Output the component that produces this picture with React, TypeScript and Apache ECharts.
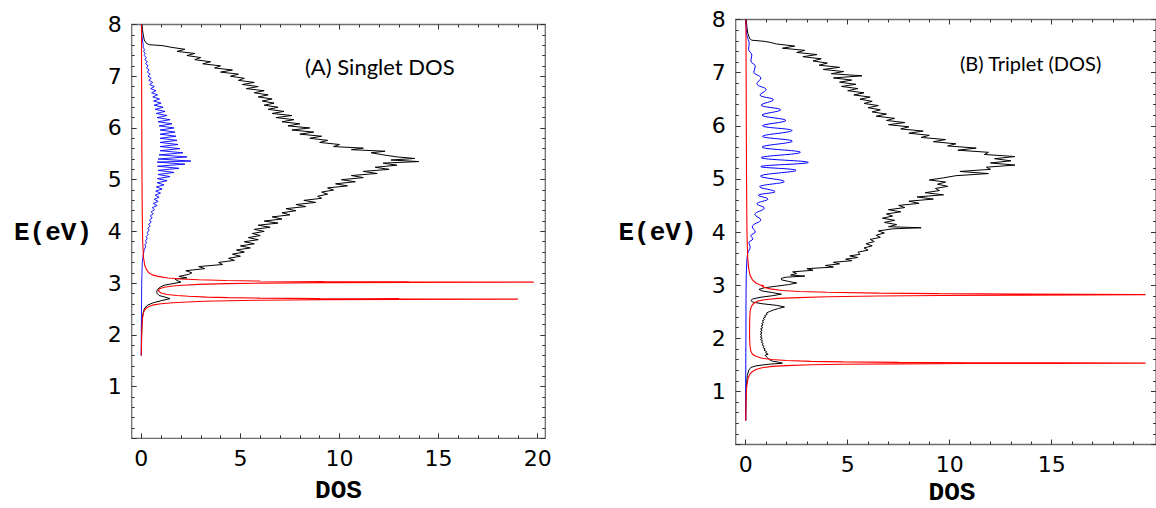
import React, { useEffect, useRef } from "react";
import * as echarts from "echarts";

// ---- tick labels ----
const energyTickLabels = [1, 2, 3, 4, 5, 6, 7, 8];
const dosTickLabelsA = [0, 5, 10, 15, 20];
const dosTickLabelsB = [0, 5, 10, 15];
const dosMinorTicks = [0, 1, 2, 3, 4, 6, 7, 8, 9, 11, 12, 13, 14, 16, 17, 18, 19];

// ---- Panel A (singlet): [E, DOS] ----
const singletTotal: [number, number][] = [
  [1.6, 0], [1.9, 0.01], [2.2, 0.03], [2.4, 0.08], [2.5, 0.15], [2.57, 0.3], [2.62, 0.6], [2.66, 1.0],
  [2.7, 1.45], [2.73, 1.2], [2.76, 0.9], [2.8, 0.8], [2.84, 0.78], [2.88, 0.82], [2.92, 0.95], [2.96, 1.15],
  [2.99, 1.6], [3.02, 2.0], [3.05, 1.8], [3.08, 1.7], [3.1, 2.3], [3.13, 1.9], [3.17, 2.4],
  [3.20, 2.55], [3.24, 2.25], [3.28, 3.2], [3.32, 2.9], [3.36, 4.1], [3.40, 3.9], [3.44, 4.7], [3.48, 4.4],
  [3.52, 5.0], [3.56, 4.6], [3.60, 5.2], [3.64, 4.8], [3.68, 5.5], [3.72, 5.0], [3.76, 5.7], [3.80, 5.2],
  [3.84, 5.9], [3.88, 5.4], [3.92, 6.0], [3.96, 5.6], [4.00, 6.2], [4.04, 5.7], [4.08, 6.5], [4.12, 5.9],
  [4.16, 6.9], [4.20, 6.2], [4.24, 7.1], [4.28, 6.6], [4.32, 7.5], [4.36, 7.1], [4.40, 7.8], [4.44, 7.3],
  [4.48, 8.3], [4.52, 7.8], [4.56, 8.8], [4.60, 8.2], [4.64, 9.1], [4.68, 8.9], [4.72, 9.4], [4.76, 9.1],
  [4.80, 9.7], [4.84, 9.4], [4.88, 10.4], [4.92, 9.8], [4.96, 10.8], [5.00, 10.1], [5.04, 11.2], [5.08, 10.6],
  [5.12, 11.9], [5.16, 11.2], [5.20, 12.5], [5.24, 11.8], [5.28, 12.9], [5.32, 12.2], [5.35, 14.0], [5.38, 12.6],
  [5.41, 13.8], [5.44, 12.9], [5.48, 12.2], [5.52, 11.6], [5.55, 12.3], [5.58, 10.6], [5.61, 11.2], [5.64, 9.7],
  [5.68, 10.0], [5.72, 9.0], [5.76, 9.4], [5.80, 8.5], [5.84, 9.1], [5.88, 8.0], [5.92, 8.7], [5.96, 7.6],
  [6.00, 8.5], [6.04, 7.4], [6.08, 8.0], [6.12, 7.1], [6.16, 7.7], [6.20, 6.8], [6.24, 7.6], [6.28, 6.6],
  [6.32, 7.2], [6.36, 6.4], [6.40, 6.9], [6.44, 6.2], [6.48, 6.7], [6.52, 6.1], [6.56, 6.6], [6.60, 5.9],
  [6.64, 6.4], [6.68, 5.7], [6.72, 6.2], [6.76, 5.3], [6.80, 5.9], [6.84, 5.1], [6.88, 5.7], [6.92, 4.9],
  [6.96, 5.2], [7.00, 4.5], [7.04, 4.9], [7.08, 4.0], [7.12, 4.6], [7.16, 3.7], [7.20, 4.0], [7.24, 3.1],
  [7.28, 3.5], [7.32, 2.7], [7.36, 3.0], [7.40, 2.3], [7.44, 2.7], [7.48, 1.8], [7.52, 2.2], [7.56, 1.5],
  [7.59, 1.1], [7.61, 0.4], [7.64, 0.25], [7.7, 0.15], [7.8, 0.1], [7.9, 0.06], [8.0, 0.04],
];

const singletBlue: [number, number][] = [
  [1.6, 0], [2.0, 0.0], [2.5, 0.01], [3.0, 0.02], [3.4, 0.05], [3.55, 0.1], [3.65, 0.15],
  [3.70, 0.22], [3.74, 0.18], [3.78, 0.26], [3.82, 0.22], [3.86, 0.3], [3.90, 0.25], [3.94, 0.35], [3.98, 0.29],
  [4.02, 0.4], [4.06, 0.33], [4.10, 0.45], [4.14, 0.37], [4.18, 0.5], [4.22, 0.41], [4.26, 0.55], [4.30, 0.45],
  [4.34, 0.6], [4.38, 0.5], [4.42, 0.67], [4.46, 0.55], [4.50, 0.8], [4.54, 0.6], [4.58, 0.85], [4.62, 0.65],
  [4.66, 0.9], [4.70, 0.7], [4.74, 0.97], [4.78, 0.73], [4.82, 1.05], [4.86, 0.76], [4.90, 1.15], [4.94, 0.8],
  [4.98, 1.3], [5.02, 0.82], [5.06, 1.45], [5.10, 0.85], [5.14, 1.65], [5.18, 0.85], [5.22, 1.9], [5.26, 0.82],
  [5.30, 2.2], [5.34, 0.8], [5.36, 2.5], [5.40, 0.85], [5.44, 2.3], [5.48, 0.9], [5.52, 2.1], [5.56, 0.95],
  [5.60, 1.95], [5.64, 0.95], [5.68, 1.85], [5.72, 0.95], [5.76, 1.8], [5.80, 0.95], [5.84, 1.75], [5.88, 0.95],
  [5.92, 1.7], [5.96, 0.95], [6.00, 1.65], [6.04, 0.9], [6.08, 1.55], [6.12, 0.85], [6.16, 1.45], [6.20, 0.8],
  [6.24, 1.3], [6.28, 0.75], [6.32, 1.2], [6.36, 0.7], [6.40, 1.1], [6.44, 0.65], [6.48, 1.0], [6.52, 0.62],
  [6.56, 0.92], [6.60, 0.58], [6.64, 0.82], [6.68, 0.52], [6.72, 0.74], [6.76, 0.47], [6.80, 0.66], [6.84, 0.42],
  [6.88, 0.58], [6.92, 0.38], [6.96, 0.5], [7.00, 0.34], [7.04, 0.45], [7.08, 0.3], [7.12, 0.4], [7.16, 0.26],
  [7.20, 0.34], [7.24, 0.22], [7.28, 0.3], [7.32, 0.18], [7.36, 0.25], [7.40, 0.15], [7.44, 0.2], [7.48, 0.12],
  [7.52, 0.16], [7.56, 0.09], [7.6, 0.1], [7.7, 0.06], [7.8, 0.03], [8.0, 0.0],
];

const singletRed: [number, number][] = [
  [1.6, 0], [1.8, 0.01], [2.0, 0.02], [2.2, 0.04], [2.35, 0.07], [2.44, 0.12], [2.48, 0.17], [2.52, 0.27],
  [2.55, 0.4], [2.58, 0.62], [2.60, 1.0], [2.62, 1.6], [2.635, 2.3], [2.65, 3.2], [2.66, 4.4], [2.67, 6.0],
  [2.68, 9.0], [2.685, 13], [2.69, 19.0], [2.695, 13], [2.70, 9.0], [2.71, 6.0], [2.72, 4.4], [2.73, 3.3],
  [2.745, 2.4], [2.76, 1.8], [2.78, 1.3], [2.81, 1.0], [2.85, 0.86], [2.89, 0.92], [2.92, 1.15], [2.945, 1.6],
  [2.96, 2.1], [2.975, 2.9], [2.99, 4.3], [3.0, 6.0], [3.01, 9.2], [3.015, 13.5], [3.02, 19.8], [3.025, 13.5],
  [3.03, 9.2], [3.04, 6.0], [3.05, 4.3], [3.065, 2.9], [3.08, 2.0], [3.1, 1.35], [3.13, 0.85], [3.16, 0.55],
  [3.2, 0.38], [3.27, 0.25], [3.35, 0.17], [3.5, 0.11], [3.8, 0.07], [4.3, 0.05], [5, 0.035], [6, 0.025],
  [7, 0.015], [8, 0.01],
];

// ---- Panel B (triplet): [E, DOS] ----
const tripletTotal: [number, number][] = [
  [0.45, 0], [0.8, 0.01], [1.1, 0.03], [1.3, 0.08], [1.4, 0.15], [1.45, 0.25], [1.48, 0.5], [1.51, 1.1],
  [1.53, 1.8], [1.55, 1.6], [1.57, 1.3], [1.6, 1.15], [1.64, 1.05], [1.68, 0.95],
  [1.700, 1.10], [1.725, 0.98], [1.750, 1.02], [1.775, 0.90], [1.800, 0.95], [1.825, 0.85], [1.850, 0.90],
  [1.875, 0.80], [1.900, 0.86], [1.925, 0.76], [1.950, 0.83], [1.975, 0.73], [2.000, 0.81], [2.025, 0.72],
  [2.050, 0.80], [2.075, 0.71], [2.100, 0.80], [2.125, 0.72], [2.150, 0.81], [2.175, 0.73], [2.200, 0.83],
  [2.225, 0.75], [2.250, 0.85], [2.275, 0.78], [2.300, 0.88], [2.325, 0.81], [2.350, 0.92], [2.375, 0.86],
  [2.400, 0.97], [2.425, 0.93], [2.450, 1.05], [2.475, 1.02], [2.50, 1.15], [2.53, 1.35], [2.56, 1.6],
  [2.59, 1.9], [2.62, 1.5], [2.65, 0.8], [2.68, 0.35], [2.71, 0.25], [2.74, 0.35], [2.77, 0.7], [2.80, 1.3],
  [2.83, 1.75], [2.86, 1.3], [2.89, 0.8], [2.92, 0.65], [2.95, 0.9], [2.98, 1.5], [3.01, 2.1], [3.04, 2.5],
  [3.07, 2.1], [3.10, 1.75], [3.13, 1.75], [3.15, 2.0], [3.17, 2.9], [3.19, 2.2],
  [3.22, 2.5], [3.25, 2.3], [3.28, 3.3], [3.31, 3.0], [3.34, 4.3], [3.37, 3.9], [3.40, 4.6], [3.43, 4.3],
  [3.46, 5.2], [3.49, 4.9], [3.52, 5.5], [3.55, 5.1], [3.58, 5.6], [3.62, 5.5], [3.66, 6.0], [3.70, 5.8],
  [3.74, 6.2], [3.78, 5.9], [3.82, 6.3], [3.86, 6.1], [3.90, 6.6], [3.94, 6.4], [3.98, 6.8], [4.02, 6.5],
  [4.06, 7.2], [4.08, 8.6], [4.10, 7.0], [4.14, 7.4], [4.18, 6.8], [4.22, 7.3], [4.26, 6.7], [4.30, 7.2],
  [4.34, 6.9], [4.38, 7.6], [4.42, 7.0], [4.46, 7.8], [4.50, 7.5], [4.54, 8.5], [4.58, 8.0], [4.62, 9.2],
  [4.66, 8.4], [4.70, 9.7], [4.74, 8.8], [4.78, 9.5], [4.82, 9.3], [4.86, 9.9], [4.90, 9.4], [4.94, 9.8],
  [4.98, 9.0], [5.02, 9.7], [5.06, 10.3], [5.10, 11.9], [5.14, 10.5], [5.18, 12.0], [5.22, 11.8], [5.26, 13.2],
  [5.30, 12.0], [5.34, 13.0], [5.38, 12.2], [5.42, 13.2], [5.46, 11.7], [5.50, 11.9], [5.54, 10.4], [5.58, 11.3],
  [5.62, 9.9], [5.66, 10.3], [5.70, 9.2], [5.74, 9.8], [5.78, 8.6], [5.82, 9.0], [5.86, 8.0], [5.90, 8.7],
  [5.94, 7.6], [5.98, 8.0], [6.02, 7.0], [6.06, 7.8], [6.10, 6.9], [6.14, 7.3], [6.18, 6.4], [6.22, 6.9],
  [6.26, 6.2], [6.30, 6.6], [6.34, 6.0], [6.38, 6.5], [6.42, 5.8], [6.46, 6.2], [6.50, 5.6], [6.54, 6.1],
  [6.58, 5.3], [6.62, 5.8], [6.66, 5.0], [6.70, 5.5], [6.74, 4.7], [6.78, 5.4], [6.82, 4.6], [6.86, 5.2],
  [6.90, 4.3], [6.94, 5.7], [6.98, 4.2], [7.02, 4.8], [7.06, 3.8], [7.10, 4.6], [7.14, 3.6], [7.18, 4.0],
  [7.22, 3.3], [7.26, 3.7], [7.30, 2.8], [7.34, 3.5], [7.38, 2.5], [7.42, 2.9], [7.46, 1.8], [7.50, 2.4],
  [7.54, 1.5], [7.57, 1.2], [7.59, 0.9], [7.61, 0.3], [7.64, 0.2], [7.74, 0.1], [7.85, 0.06], [8.0, 0.03],
];

const tripletBlue: [number, number][] = [
  [0.45, 0], [1.0, 0.0], [2.0, 0.01], [3.0, 0.02], [3.4, 0.05], [3.6, 0.1],
  [3.72, 0.22], [3.80, 0.15], [3.87, 0.35], [3.93, 0.25], [4.00, 0.47], [4.10, 0.32], [4.23, 0.74], [4.33, 0.45],
  [4.45, 0.91], [4.53, 0.55], [4.62, 1.09], [4.69, 0.62], [4.76, 1.44], [4.85, 0.68], [4.95, 1.89], [5.05, 0.72],
  [5.16, 2.47], [5.23, 0.74], [5.31, 3.07], [5.40, 0.76], [5.50, 2.68], [5.60, 0.8], [5.71, 2.29], [5.80, 0.82],
  [5.91, 2.27], [6.00, 0.82], [6.10, 1.97], [6.20, 0.8], [6.30, 1.71], [6.39, 0.76], [6.49, 1.36], [6.58, 0.7],
  [6.68, 1.0], [6.79, 0.55], [6.90, 0.74], [7.01, 0.4], [7.12, 0.47], [7.22, 0.25], [7.33, 0.3], [7.44, 0.14],
  [7.55, 0.17], [7.7, 0.06], [8.0, 0.0],
];

const tripletRed: [number, number][] = [
  [0.45, 0], [0.7, 0.01], [0.9, 0.02], [1.05, 0.04], [1.15, 0.07], [1.25, 0.12], [1.32, 0.2], [1.37, 0.32],
  [1.41, 0.5], [1.445, 0.8], [1.47, 1.3], [1.485, 2.0], [1.5, 3.2], [1.51, 4.8], [1.518, 7.5], [1.524, 11],
  [1.528, 15], [1.532, 19.6], [1.536, 15], [1.54, 11], [1.546, 7.5], [1.555, 4.8], [1.565, 3.2], [1.58, 2.0],
  [1.6, 1.3], [1.625, 0.8], [1.66, 0.5], [1.7, 0.33], [1.76, 0.25], [1.85, 0.21], [2.0, 0.19], [2.2, 0.19],
  [2.4, 0.2], [2.52, 0.22], [2.6, 0.28], [2.66, 0.4], [2.70, 0.6], [2.73, 1.0], [2.75, 1.6], [2.765, 2.6],
  [2.78, 4.0], [2.795, 6.5], [2.805, 9.5], [2.812, 13.5], [2.817, 16.5], [2.822, 19.6], [2.827, 16.5],
  [2.832, 13.5], [2.84, 9.5], [2.85, 6.5], [2.865, 4.0], [2.88, 2.6], [2.9, 1.8], [2.93, 1.2], [2.96, 0.9],
  [2.98, 0.8], [2.99, 0.88], [3.0, 0.72], [3.04, 0.5], [3.1, 0.33], [3.18, 0.22], [3.3, 0.15], [3.5, 0.1],
  [4, 0.06], [5, 0.04], [6, 0.03], [7, 0.02], [8, 0.01],
];

const TICK_FONT = "DejaVu Sans";
const FRAME = "#6e6e6e";
const TICK = "#333";

function xAxesFor(gridIndex: number, min: number, max: number, major: number[]) {
  const base = {
    type: "value" as const,
    gridIndex,
    min,
    max,
    axisLine: { show: false, onZero: false },
    splitLine: { show: false },
  };
  const mk = (pos: string, ticks: number[], len: number, labels: boolean) => ({
    ...base,
    position: pos,
    axisTick: { show: true, inside: true, length: len, customValues: ticks, lineStyle: { color: TICK, width: 1 } },
    axisLabel: labels
      ? { show: true, customValues: major, margin: 9, fontSize: 22, fontFamily: TICK_FONT, color: "#000" }
      : { show: false },
  });
  return [
    mk("bottom", major, 5, true),
    mk("bottom", dosMinorTicks, 3, false),
    mk("top", major, 5, false),
    mk("top", dosMinorTicks, 3, false),
  ];
}

function yAxesFor(gridIndex: number) {
  const base = {
    type: "value" as const,
    gridIndex,
    min: 0,
    max: 8,
    interval: 1,
    axisLine: { show: false, onZero: false },
    splitLine: { show: false },
    minorTick: { show: true, splitNumber: 5, length: 3, lineStyle: { color: TICK, width: 1 } },
    axisTick: { show: true, inside: true, length: 5, lineStyle: { color: TICK, width: 1 } },
  };
  return [
    {
      ...base,
      position: "left",
      axisLabel: { show: true, customValues: energyTickLabels, margin: 10, fontSize: 22, fontFamily: TICK_FONT, color: "#000" },
    },
    { ...base, position: "right", axisLabel: { show: false } },
  ];
}

function line(data: [number, number][], color: string, xi: number, yi: number, width = 1, smooth: boolean | number = false) {
  return {
    type: "line",
    xAxisIndex: xi,
    yAxisIndex: yi,
    data: data.map(([e, d]) => [d, e]),
    showSymbol: false,
    symbol: "none",
    smooth,
    lineStyle: { color, width },
    silent: true,
  };
}

function axisTitle(text: string, x: number, y: number) {
  return {
    type: "text",
    x,
    y,
    style: {
      text,
      fill: "#000",
      fontSize: 26,
      fontWeight: "bold",
      fontFamily: "Liberation Mono",
      align: "center",
      verticalAlign: "middle",
      textAlign: "center",
      textVerticalAlign: "middle",
    },
  };
}

function note(text: string, x: number, y: number, size: number) {
  return {
    type: "text",
    x,
    y,
    style: {
      text,
      fill: "#000",
      fontSize: size,
      fontFamily: "Lato",
      align: "left",
      verticalAlign: "middle",
      textAlign: "left",
      textVerticalAlign: "middle",
    },
  };
}

export default function App() {
  const ref = useRef<HTMLDivElement>(null);
  useEffect(() => {
    if (!ref.current) return;
    const chart = echarts.init(ref.current, undefined, { renderer: "svg" });
    const option = {
      animation: false,
      backgroundColor: "#fff",
      grid: [
        { left: 131.7, top: 24.5, width: 413.6, height: 413.8, show: true, borderColor: FRAME, borderWidth: 1.3, backgroundColor: "transparent" },
        { left: 735.7, top: 19.5, width: 432.3, height: 425, show: true, borderColor: FRAME, borderWidth: 1.3, backgroundColor: "transparent" },
      ],
      xAxis: [
        ...xAxesFor(0, -0.484, 20.383, dosTickLabelsA),
        ...xAxesFor(1, -0.491, 20.114, dosTickLabelsB),
      ],
      yAxis: [...yAxesFor(0), ...yAxesFor(1)],
      series: [
        line(singletTotal, "#000000", 0, 0, 1),
        line(singletBlue, "#0000ff", 0, 0, 0.9),
        line(singletRed, "#ff0000", 0, 0, 1.1),
        line(tripletTotal, "#000000", 4, 2, 1),
        line(tripletBlue, "#0000ff", 4, 2, 1, 0.4),
        line(tripletRed, "#ff0000", 4, 2, 1.1),
      ],
      graphic: [
        axisTitle("E(eV)", 53, 233),
        axisTitle("DOS", 338.5, 491),
        axisTitle("E(eV)", 657.5, 233),
        axisTitle("DOS", 952, 493),
        note("(A) Singlet DOS", 305, 66, 22),
        note("(B) Triplet (DOS)", 960, 63, 20),
      ],
    };
    chart.setOption(option as any);
    return () => chart.dispose();
  }, []);
  return <div ref={ref} style={{ position: "absolute", left: 0, top: 0, width: 1156, height: 508 }} />;
}
